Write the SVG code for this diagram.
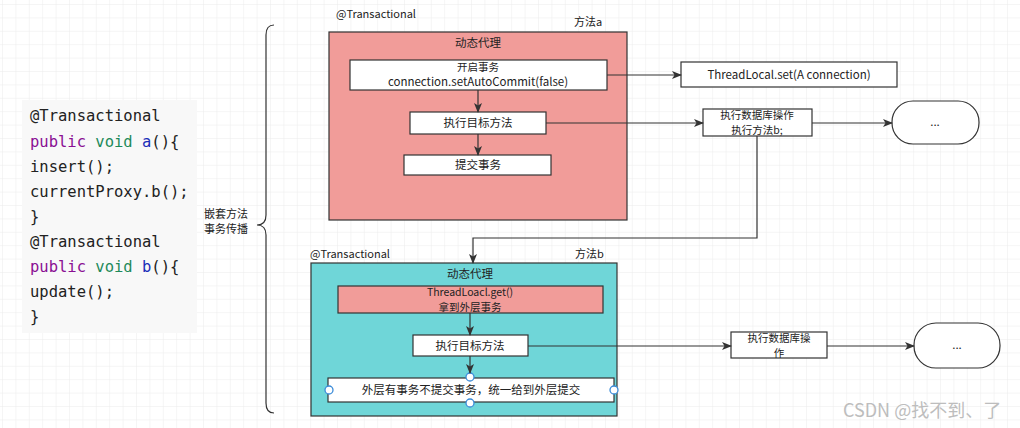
<svg xmlns="http://www.w3.org/2000/svg" width="1020" height="428" viewBox="0 0 1020 428">
<defs>
<pattern id="grid" width="13.4" height="13.4" patternUnits="userSpaceOnUse" x="2" y="4">
<path d="M13.4 0H0V13.4" fill="none" stroke="#ebebeb" stroke-width="1"/>
</pattern>
<marker id="arr" markerWidth="10" markerHeight="8" refX="9" refY="4" orient="auto" markerUnits="userSpaceOnUse">
<path d="M0 0L10 4L0 8L2.5 4Z" fill="#333"/>
</marker>
<style>
.t{font-family:"Noto Sans CJK SC","Liberation Sans",sans-serif;font-size:11.5px;fill:#222;text-anchor:middle}
.s{font-size:10.5px}
.l{font-family:"Noto Sans CJK SC","Liberation Sans",sans-serif;font-size:11px;fill:#222}
.box{fill:#fff;stroke:#333;stroke-width:1.2}
.ln{fill:none;stroke:#333;stroke-width:1.2}
.code{font-family:"DejaVu Sans Mono","Liberation Mono",monospace;font-size:15.5px;fill:#222}
.h{fill:#fff;stroke:#3b8bd8;stroke-width:1.3}
</style>
</defs>
<rect width="1020" height="428" fill="#fff"/>
<rect width="1020" height="428" fill="url(#grid)"/>

<g id="code">
<rect x="22" y="100" width="175" height="233" fill="#f8f8f8"/>
<text class="code" x="30" y="121">@Transactional</text>
<text class="code" x="30" y="147"><tspan fill="#8a0f93">public</tspan> <tspan fill="#1e8a5a">void</tspan> <tspan fill="#1b2fb8">a</tspan>(){</text>
<text class="code" x="30" y="172">insert();</text>
<text class="code" x="30" y="197">currentProxy.b();</text>
<text class="code" x="30" y="222">}</text>
<text class="code" x="30" y="247">@Transactional</text>
<text class="code" x="30" y="272"><tspan fill="#8a0f93">public</tspan> <tspan fill="#1e8a5a">void</tspan> <tspan fill="#1b2fb8">b</tspan>(){</text>
<text class="code" x="30" y="297">update();</text>
<text class="code" x="30" y="322">}</text>
</g>

<g id="brace">
<path class="ln" d="M274 25Q266 25 266 35V215Q266 225 257 225Q266 225 266 235V403Q266 413 274 413"/>
<text class="l" x="204" y="218">嵌套方法</text>
<text class="l" x="204" y="233">事务传播</text>
</g>

<g id="methodA">
<text class="l" x="336" y="18">@Transactional</text>
<text class="l" x="574" y="26">方法a</text>
<rect x="329" y="32" width="298" height="188" fill="#f19c99" stroke="#333" stroke-width="1.2"/>
<text class="t" x="478" y="47">动态代理</text>
</g>
<g id="openTx">
<rect class="box" x="350" y="60" width="257" height="30"/>
<text class="t s" x="478" y="71">开启事务</text>
<text class="t" x="478" y="86">connection.setAutoCommit(false)</text>
</g>
<g id="execA">
<rect class="box" x="410" y="112" width="136" height="22"/>
<text class="t" x="478" y="127">执行目标方法</text>
</g>
<g id="commitA">
<rect class="box" x="404" y="155" width="147" height="20"/>
<text class="t" x="478" y="169">提交事务</text>
</g>
<g id="threadLocalSet">
<rect class="box" x="681" y="62" width="216" height="25"/>
<text class="t" x="789" y="79">ThreadLocal.set(A connection)</text>
</g>
<g id="dbA">
<rect class="box" x="703" y="109" width="109" height="27"/>
<text class="t s" x="757" y="119">执行数据库操作</text>
<text class="t s" x="757" y="134">执行方法b;</text>
</g>
<g id="endA">
<rect class="box" x="892" y="101" width="87" height="43" rx="21" ry="21"/>
<text class="t" x="935" y="126">...</text>
</g>

<g id="methodB">
<text class="l" x="310" y="258">@Transactional</text>
<text class="l" x="575" y="258">方法b</text>
<rect x="311" y="263" width="306" height="153" fill="#6fd6d8" stroke="#333" stroke-width="1.2"/>
<text class="t" x="470" y="278">动态代理</text>
</g>
<g id="getTx">
<rect x="338" y="286" width="265" height="27" fill="#f19c99" stroke="#333" stroke-width="1.2"/>
<text class="t s" x="470" y="296">ThreadLoacl.get()</text>
<text class="t s" x="470" y="311">拿到外层事务</text>
</g>
<g id="execB">
<rect class="box" x="413" y="335" width="115" height="21"/>
<text class="t" x="470" y="350">执行目标方法</text>
</g>
<g id="noCommit">
<rect class="box" x="328" y="378" width="286" height="24"/>
<text class="t" x="471" y="394">外层有事务不提交事务，统一给到外层提交</text>
<circle class="h" cx="470" cy="377" r="4"/>
<circle class="h" cx="329" cy="390" r="4"/>
<circle class="h" cx="614" cy="390" r="4"/>
<circle class="h" cx="470" cy="403" r="4"/>
</g>
<g id="dbB">
<rect class="box" x="731" y="332" width="96" height="26"/>
<text class="t s" x="779" y="342">执行数据库操</text>
<text class="t s" x="779" y="357">作</text>
</g>
<g id="endB">
<rect class="box" x="914" y="323" width="86" height="45" rx="22" ry="22"/>
<text class="t" x="957" y="349">...</text>
</g>

<g id="connectors">
<path class="ln" d="M478 90V112" marker-end="url(#arr)"/>
<path class="ln" d="M478 134V155" marker-end="url(#arr)"/>
<path class="ln" d="M607 75H681" marker-end="url(#arr)"/>
<path class="ln" d="M546 123H703" marker-end="url(#arr)"/>
<path class="ln" d="M812 123H892" marker-end="url(#arr)"/>
<path class="ln" d="M757 136V238H473V263" marker-end="url(#arr)"/>
<path class="ln" d="M470 313V335" marker-end="url(#arr)"/>
<path class="ln" d="M470 356V373" marker-end="url(#arr)"/>
<path class="ln" d="M528 346H731" marker-end="url(#arr)"/>
<path class="ln" d="M827 346H914" marker-end="url(#arr)"/>
</g>

<text x="843" y="417" style="font-family:'Noto Sans CJK SC','Liberation Sans',sans-serif;font-size:18px;fill:#bdbdbd">CSDN @找不到、了</text>
</svg>
